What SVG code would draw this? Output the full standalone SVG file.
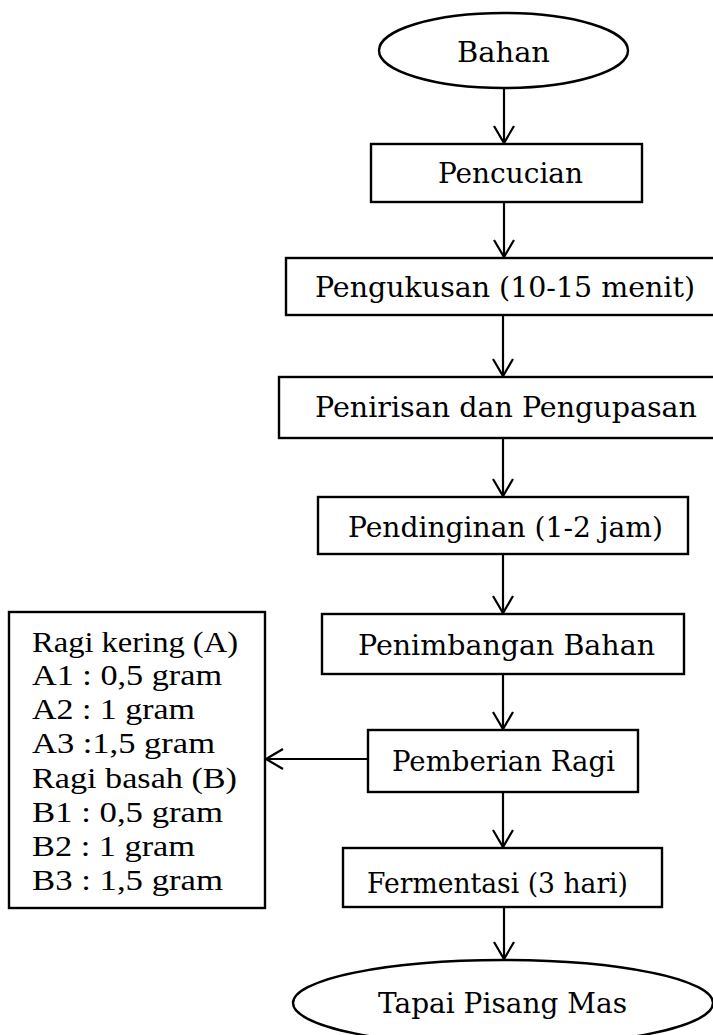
<svg xmlns="http://www.w3.org/2000/svg" width="713" height="1035" viewBox="0 0 713 1035">
<style>
.box{fill:#fff;stroke:#000;stroke-width:2.4}
.t{font-family:"DejaVu Serif","Liberation Serif",serif;font-size:28px;fill:#000}
.l{font-family:"Liberation Serif","DejaVu Serif",serif;font-size:29px;fill:#000}
.c{stroke:#000;stroke-width:2.2;fill:none;marker-end:url(#ah)}
</style>
<defs>
<marker id="ah" markerUnits="userSpaceOnUse" markerWidth="30" markerHeight="30" viewBox="-20 -15 25 30" refX="0" refY="0" orient="auto" overflow="visible">
<path d="M-17,-10 L0,0 L-17,10" fill="none" stroke="#000" stroke-width="2.2"/>
</marker>
</defs>
<rect width="713" height="1035" fill="#fff"/>
<g id="connectors">
<line class="c" x1="504" y1="88" x2="504" y2="143"/>
<line class="c" x1="504" y1="202" x2="504" y2="257"/>
<line class="c" x1="503" y1="315" x2="503" y2="376"/>
<line class="c" x1="503" y1="438" x2="503" y2="496"/>
<line class="c" x1="503" y1="554" x2="503" y2="613"/>
<line class="c" x1="503" y1="674" x2="503" y2="729"/>
<line class="c" x1="503" y1="792" x2="503" y2="847"/>
<line class="c" x1="504" y1="907" x2="504" y2="959"/>
<line class="c" x1="368" y1="759" x2="266" y2="759"/>
</g>
<g id="bahan">
<ellipse class="box" cx="503.5" cy="50.5" rx="124.5" ry="37.5"/>
<text class="t" x="457" y="62" textLength="93" lengthAdjust="spacingAndGlyphs">Bahan</text>
</g>
<g id="pencucian">
<rect class="box" x="371" y="144" width="271" height="58"/>
<text class="t" x="438" y="183" textLength="145" lengthAdjust="spacingAndGlyphs">Pencucian</text>
</g>
<g id="pengukusan">
<rect class="box" x="286" y="258" width="440" height="57"/>
<text class="t" x="315" y="297" textLength="380" lengthAdjust="spacingAndGlyphs">Pengukusan (10-15 menit)</text>
</g>
<g id="penirisan">
<rect class="box" x="279" y="377" width="450" height="61"/>
<text class="t" x="315" y="417" textLength="382" lengthAdjust="spacingAndGlyphs">Penirisan dan Pengupasan</text>
</g>
<g id="pendinginan">
<rect class="box" x="318" y="497" width="370" height="57"/>
<text class="t" x="348" y="537" textLength="315" lengthAdjust="spacingAndGlyphs">Pendinginan (1-2 jam)</text>
</g>
<g id="penimbangan">
<rect class="box" x="322" y="614" width="362" height="60"/>
<text class="t" x="358" y="655" textLength="297" lengthAdjust="spacingAndGlyphs">Penimbangan Bahan</text>
</g>
<g id="pemberian">
<rect class="box" x="368" y="730" width="270" height="62"/>
<text class="t" x="392" y="771" textLength="223" lengthAdjust="spacingAndGlyphs">Pemberian Ragi</text>
</g>
<g id="ragi">
<rect class="box" x="9" y="612" width="256" height="296"/>
<text class="l" x="32" y="652" textLength="206" lengthAdjust="spacingAndGlyphs">Ragi kering (A)</text>
<text class="l" x="32" y="685" textLength="190" lengthAdjust="spacingAndGlyphs">A1 : 0,5 gram</text>
<text class="l" x="32" y="719" textLength="163" lengthAdjust="spacingAndGlyphs">A2 : 1 gram</text>
<text class="l" x="32" y="753" textLength="183" lengthAdjust="spacingAndGlyphs">A3 :1,5 gram</text>
<text class="l" x="32" y="788" textLength="205" lengthAdjust="spacingAndGlyphs">Ragi basah (B)</text>
<text class="l" x="32" y="822" textLength="191" lengthAdjust="spacingAndGlyphs">B1 : 0,5 gram</text>
<text class="l" x="32" y="856" textLength="163" lengthAdjust="spacingAndGlyphs">B2 : 1 gram</text>
<text class="l" x="32" y="890" textLength="191" lengthAdjust="spacingAndGlyphs">B3 : 1,5 gram</text>
</g>
<g id="fermentasi">
<rect class="box" x="343" y="848" width="319" height="59"/>
<text class="t" x="367" y="893" textLength="261" lengthAdjust="spacingAndGlyphs">Fermentasi (3 hari)</text>
</g>
<g id="tapai">
<ellipse class="box" cx="503" cy="1003" rx="210" ry="43"/>
<text class="t" x="378" y="1013" textLength="249" lengthAdjust="spacingAndGlyphs">Tapai Pisang Mas</text>
</g>
</svg>
